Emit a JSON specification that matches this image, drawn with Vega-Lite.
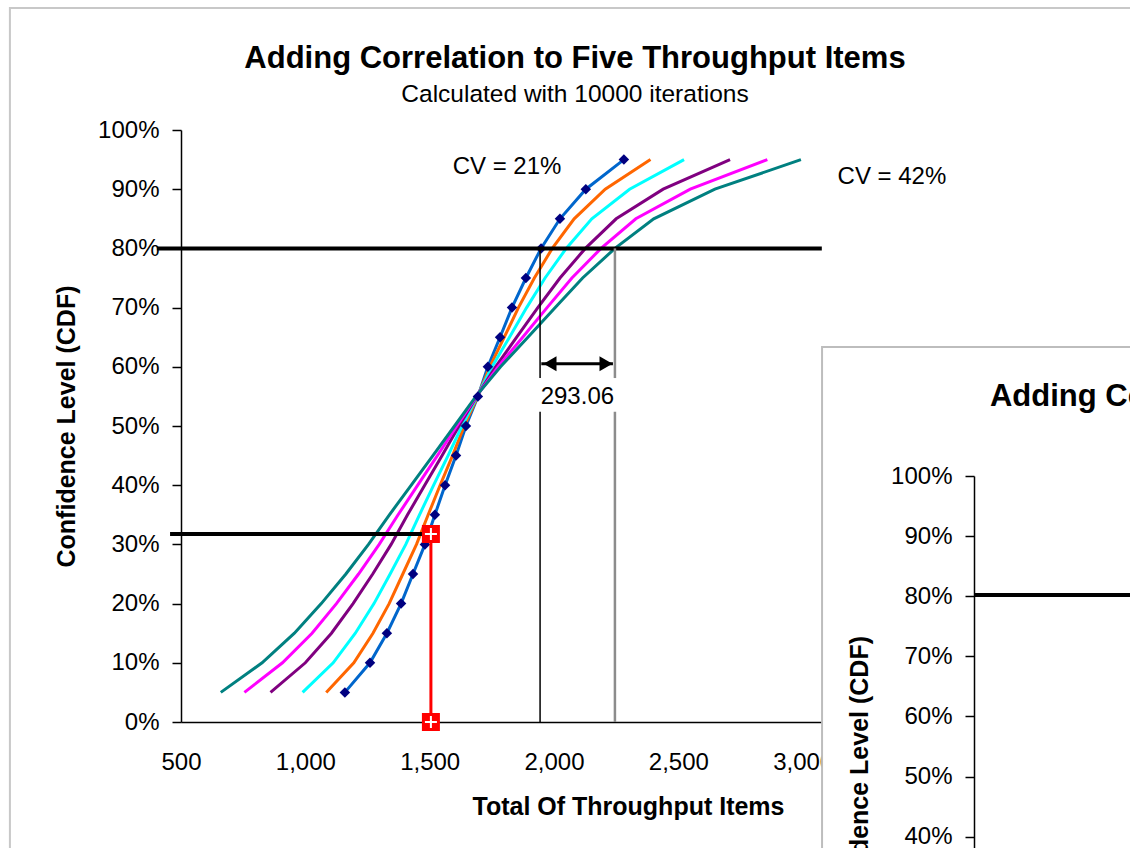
{
  "$schema": "https://vega.github.io/schema/vega-lite/v6.json",
  "width": 746,
  "height": 592,
  "autosize": {"type": "none"},
  "padding": {"left": 181, "top": 130, "right": 203, "bottom": 126},
  "background": "white",
  "config": {
    "view": {"stroke": null},
    "font": "Liberation Sans",
    "axis": {"grid": false, "labelFont": "Liberation Sans", "titleFont": "Liberation Sans", "labelColor": "black", "titleColor": "black", "domainColor": "black", "tickColor": "black"},
    "text": {"font": "Liberation Sans", "fontSize": 24, "color": "black"}
  },
  "title": {
    "text": "Adding Correlation to Five Throughput Items",
    "subtitle": "Calculated with 10000 iterations",
    "anchor": "middle",
    "frame": "group",
    "font": "Liberation Sans",
    "fontSize": 31,
    "fontWeight": "bold",
    "color": "black",
    "subtitleFont": "Liberation Sans",
    "subtitleFontSize": 24.5,
    "subtitleColor": "black",
    "subtitlePadding": 8,
    "offset": -101,
    "dx": 21
  },
  "datasets": {
    "cdf": [
      {"s":"S1","p":0.05,"v":1159},{"s":"S1","p":0.10,"v":1260},{"s":"S1","p":0.15,"v":1328},{"s":"S1","p":0.20,"v":1385},{"s":"S1","p":0.25,"v":1433},{"s":"S1","p":0.30,"v":1481},{"s":"S1","p":0.35,"v":1521},{"s":"S1","p":0.40,"v":1562},{"s":"S1","p":0.45,"v":1606},{"s":"S1","p":0.50,"v":1646},{"s":"S1","p":0.55,"v":1694},{"s":"S1","p":0.60,"v":1734},{"s":"S1","p":0.65,"v":1783},{"s":"S1","p":0.70,"v":1831},{"s":"S1","p":0.75,"v":1887},{"s":"S1","p":0.80,"v":1948},{"s":"S1","p":0.85,"v":2024},{"s":"S1","p":0.90,"v":2128},{"s":"S1","p":0.95,"v":2281},
      {"s":"S2","p":0.05,"v":1084},{"s":"S2","p":0.10,"v":1195},{"s":"S2","p":0.15,"v":1272},{"s":"S2","p":0.20,"v":1337},{"s":"S2","p":0.25,"v":1392},{"s":"S2","p":0.30,"v":1447},{"s":"S2","p":0.35,"v":1494},{"s":"S2","p":0.40,"v":1542},{"s":"S2","p":0.45,"v":1592},{"s":"S2","p":0.50,"v":1639},{"s":"S2","p":0.55,"v":1693},{"s":"S2","p":0.60,"v":1742},{"s":"S2","p":0.65,"v":1800},{"s":"S2","p":0.70,"v":1857},{"s":"S2","p":0.75,"v":1921},{"s":"S2","p":0.80,"v":1993},{"s":"S2","p":0.85,"v":2081},{"s":"S2","p":0.90,"v":2206},{"s":"S2","p":0.95,"v":2388},
      {"s":"S3","p":0.05,"v":989},{"s":"S3","p":0.10,"v":1112},{"s":"S3","p":0.15,"v":1201},{"s":"S3","p":0.20,"v":1276},{"s":"S3","p":0.25,"v":1341},{"s":"S3","p":0.30,"v":1404},{"s":"S3","p":0.35,"v":1459},{"s":"S3","p":0.40,"v":1516},{"s":"S3","p":0.45,"v":1574},{"s":"S3","p":0.50,"v":1630},{"s":"S3","p":0.55,"v":1691},{"s":"S3","p":0.60,"v":1751},{"s":"S3","p":0.65,"v":1821},{"s":"S3","p":0.70,"v":1890},{"s":"S3","p":0.75,"v":1964},{"s":"S3","p":0.80,"v":2049},{"s":"S3","p":0.85,"v":2152},{"s":"S3","p":0.90,"v":2304},{"s":"S3","p":0.95,"v":2523},
      {"s":"S4","p":0.05,"v":860},{"s":"S4","p":0.10,"v":1000},{"s":"S4","p":0.15,"v":1105},{"s":"S4","p":0.20,"v":1192},{"s":"S4","p":0.25,"v":1271},{"s":"S4","p":0.30,"v":1345},{"s":"S4","p":0.35,"v":1411},{"s":"S4","p":0.40,"v":1480},{"s":"S4","p":0.45,"v":1550},{"s":"S4","p":0.50,"v":1618},{"s":"S4","p":0.55,"v":1689},{"s":"S4","p":0.60,"v":1765},{"s":"S4","p":0.65,"v":1850},{"s":"S4","p":0.70,"v":1935},{"s":"S4","p":0.75,"v":2024},{"s":"S4","p":0.80,"v":2126},{"s":"S4","p":0.85,"v":2250},{"s":"S4","p":0.90,"v":2439},{"s":"S4","p":0.95,"v":2708},
      {"s":"S5","p":0.05,"v":755},{"s":"S5","p":0.10,"v":908},{"s":"S5","p":0.15,"v":1027},{"s":"S5","p":0.20,"v":1125},{"s":"S5","p":0.25,"v":1214},{"s":"S5","p":0.30,"v":1297},{"s":"S5","p":0.35,"v":1373},{"s":"S5","p":0.40,"v":1452},{"s":"S5","p":0.45,"v":1531},{"s":"S5","p":0.50,"v":1609},{"s":"S5","p":0.55,"v":1688},{"s":"S5","p":0.60,"v":1775},{"s":"S5","p":0.65,"v":1874},{"s":"S5","p":0.70,"v":1972},{"s":"S5","p":0.75,"v":2072},{"s":"S5","p":0.80,"v":2189},{"s":"S5","p":0.85,"v":2329},{"s":"S5","p":0.90,"v":2548},{"s":"S5","p":0.95,"v":2858},
      {"s":"S6","p":0.05,"v":660},{"s":"S6","p":0.10,"v":826},{"s":"S6","p":0.15,"v":956},{"s":"S6","p":0.20,"v":1064},{"s":"S6","p":0.25,"v":1163},{"s":"S6","p":0.30,"v":1254},{"s":"S6","p":0.35,"v":1338},{"s":"S6","p":0.40,"v":1426},{"s":"S6","p":0.45,"v":1513},{"s":"S6","p":0.50,"v":1600},{"s":"S6","p":0.55,"v":1686},{"s":"S6","p":0.60,"v":1785},{"s":"S6","p":0.65,"v":1895},{"s":"S6","p":0.70,"v":2005},{"s":"S6","p":0.75,"v":2115},{"s":"S6","p":0.80,"v":2245},{"s":"S6","p":0.85,"v":2401},{"s":"S6","p":0.90,"v":2647},{"s":"S6","p":0.95,"v":2993}
    ],
    "frame": [{"v": -188, "v2": 9000, "p": 1.2061, "p2": -2}],
    "hlines": [
      {"level": "80%", "v": 403, "v2": 3077, "p": 0.80},
      {"level": "31.8%", "v": 456, "v2": 1505, "p": 0.3176}
    ],
    "vlines": [
      {"line": "CV 21% at 80%", "v": 1944, "p": 0, "p2": 0.524},
      {"line": "CV 21% at 80%", "v": 1944, "p": 0.581, "p2": 0.80},
      {"line": "CV 42% at 80%", "v": 2245, "p": 0, "p2": 0.524},
      {"line": "CV 42% at 80%", "v": 2245, "p": 0.581, "p2": 0.80}
    ],
    "red": [{"v": 1505, "p": 0.3176}, {"v": 1505, "p": 0}],
    "shaft": [{"v": 1949, "v2": 2237, "p": 0.605}],
    "heads": [{"dir": "left", "v": 1984, "p": 0.605}, {"dir": "right", "v": 2209, "p": 0.605}],
    "labels": [
      {"label": "CV = 21%", "v": 1811, "p": 0.9375},
      {"label": "CV = 42%", "v": 3359, "p": 0.9206},
      {"label": "293.06", "v": 2094, "p": 0.549}
    ],
    "panel": [{"v": -102, "v2": 9000, "p": 1.2146, "p2": -2}],
    "line80b": [{"v": 500, "v2": 9000, "p": 0.802}],
    "title2": [{"label": "Adding Correlation to Five Throughput Items", "v": 563, "p": 1.1314}]
  },
  "layer": [
    {
      "encoding": {
        "x": {
          "field": "v", "type": "quantitative",
          "scale": {"domain": [500, 3500], "nice": false, "zero": false},
          "axis": {
            "title": "Total Of Throughput Items",
            "values": [500, 1000, 1500, 2000, 2500, 3000],
            "format": ",d",
            "ticks": false,
            "labelPadding": 28,
            "labelFontSize": 24,
            "labelFlush": false,
            "labelOverlap": false,
            "titleFontSize": 25,
            "titleFontWeight": "bold",
            "titleX": 447,
            "titlePadding": 20,
            "domainWidth": 1.5,
            "zindex": 0
          }
        },
        "y": {
          "field": "p", "type": "quantitative",
          "scale": {"domain": [0, 1], "nice": false, "zero": false},
          "axis": {
            "title": "Confidence Level (CDF)",
            "values": [0, 0.1, 0.2, 0.3, 0.4, 0.5, 0.6, 0.7, 0.8, 0.9, 1],
            "format": ".0%",
            "tickSize": 9,
            "tickWidth": 1.5,
            "labelPadding": 13,
            "labelFontSize": 24,
            "labelOverlap": false,
            "labelFlush": false,
            "titleFontSize": 25,
            "titleFontWeight": "bold",
            "titlePadding": 18,
            "domainWidth": 1.5,
            "zindex": 0
          }
        }
      },
      "layer": [
        {
          "data": {"name": "frame"},
          "mark": {"type": "rect", "filled": false, "stroke": "#c8c8c8", "strokeWidth": 2},
          "encoding": {"x2": {"field": "v2"}, "y2": {"field": "p2"}}
        },
        {
          "data": {"name": "cdf"},
          "mark": {"type": "line", "strokeWidth": 3},
          "encoding": {
            "color": {
              "field": "s", "type": "nominal",
              "scale": {"domain": ["S1", "S2", "S3", "S4", "S5", "S6"], "range": ["#0066CC", "#FF6600", "#00FFFF", "#800080", "#FF00FF", "#008080"]},
              "legend": null
            }
          }
        },
        {
          "data": {"name": "cdf"},
          "transform": [{"filter": "datum.s === 'S1'"}],
          "mark": {"type": "point", "shape": "diamond", "filled": true, "color": "#000080", "size": 110, "opacity": 1}
        },
        {
          "data": {"name": "hlines"},
          "mark": {"type": "rule", "color": "black", "strokeWidth": 4},
          "encoding": {"x2": {"field": "v2"}}
        },
        {
          "data": {"name": "vlines"},
          "transform": [{"filter": "datum.line === 'CV 21% at 80%'"}],
          "mark": {"type": "rule", "color": "black", "strokeWidth": 1.5},
          "encoding": {"y2": {"field": "p2"}}
        },
        {
          "data": {"name": "vlines"},
          "transform": [{"filter": "datum.line === 'CV 42% at 80%'"}],
          "mark": {"type": "rule", "color": "#8c8c8c", "strokeWidth": 2.5},
          "encoding": {"y2": {"field": "p2"}}
        },
        {
          "data": {"name": "red"},
          "mark": {"type": "line", "color": "#FF0000", "strokeWidth": 3}
        },
        {
          "data": {"name": "red"},
          "mark": {"type": "point", "shape": "square", "filled": true, "color": "#FF0000", "size": 324, "opacity": 1}
        },
        {
          "data": {"name": "red"},
          "mark": {"type": "point", "shape": "M-1,0H1M0,-1V1", "filled": false, "color": "white", "strokeWidth": 2, "size": 144, "opacity": 1}
        },
        {
          "data": {"name": "shaft"},
          "mark": {"type": "rule", "color": "black", "strokeWidth": 3},
          "encoding": {"x2": {"field": "v2"}}
        },
        {
          "data": {"name": "heads"},
          "mark": {"type": "point", "filled": true, "color": "black", "size": 225, "opacity": 1},
          "encoding": {
            "shape": {"field": "dir", "type": "nominal", "scale": {"domain": ["left", "right"], "range": ["triangle-left", "triangle-right"]}, "legend": null}
          }
        },
        {
          "data": {"name": "labels"},
          "mark": {"type": "text", "fontSize": 24, "align": "center", "baseline": "middle"},
          "encoding": {"text": {"field": "label"}}
        }
      ]
    },
    {
      "encoding": {
        "x": {
          "field": "v", "type": "quantitative",
          "scale": {"domain": [500, 3000], "range": [793, 1424], "nice": false, "zero": false},
          "axis": null
        },
        "y": {
          "field": "p", "type": "quantitative",
          "scale": {"domain": [0, 1], "range": [947, 346], "nice": false, "zero": false},
          "axis": {
            "orient": "left",
            "offset": -793,
            "title": "Confidence Level (CDF)",
            "values": [0, 0.1, 0.2, 0.3, 0.4, 0.5, 0.6, 0.7, 0.8, 0.9, 1],
            "format": ".0%",
            "tickSize": 9,
            "tickWidth": 1.5,
            "labelPadding": 13,
            "labelFontSize": 24,
            "labelOverlap": false,
            "labelFlush": false,
            "titleFontSize": 25,
            "titleFontWeight": "bold",
            "titlePadding": 18,
            "domainWidth": 1.5,
            "zindex": 1
          }
        }
      },
      "layer": [
        {
          "data": {"name": "panel"},
          "mark": {"type": "rect", "fill": "white", "stroke": "#bdbdbd", "strokeWidth": 2},
          "encoding": {"x2": {"field": "v2"}, "y2": {"field": "p2"}}
        },
        {
          "data": {"name": "line80b"},
          "mark": {"type": "rule", "color": "black", "strokeWidth": 4},
          "encoding": {"x2": {"field": "v2"}}
        },
        {
          "data": {"name": "title2"},
          "mark": {"type": "text", "fontSize": 31, "fontWeight": "bold", "align": "left", "baseline": "middle"},
          "encoding": {"text": {"field": "label"}}
        }
      ]
    }
  ],
  "resolve": {"scale": {"x": "independent", "y": "independent", "color": "independent", "shape": "independent"}}
}
